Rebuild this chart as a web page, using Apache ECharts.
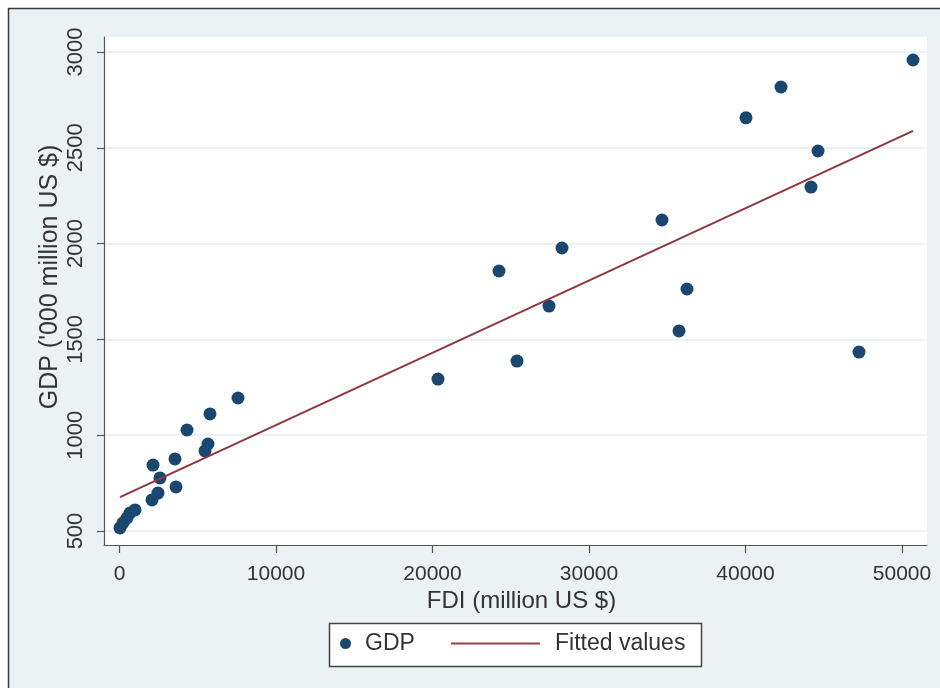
<!DOCTYPE html>
<html><head><meta charset="utf-8">
<script src="https://cdn.jsdelivr.net/npm/echarts@6/dist/echarts.min.js"></script>
<style>html,body{margin:0;padding:0;background:#fff}#c{width:940px;height:688px}</style>
</head><body><div id="c"></div>
<script>
const fdi = [32, 224, 479, 671, 990, 2077, 2141, 2460, 2588, 3546, 3610, 4313, 5463, 5655, 5783, 7572, 20351, 24249, 25399, 27444, 28275, 34665, 35751, 36262, 40032, 42268, 44185, 44633, 47252, 50703];
const gdp = [516, 542, 568, 594, 610, 662, 844, 698, 777, 876, 730, 1027, 918, 954, 1111, 1194, 1293, 1857, 1387, 1674, 1977, 2123, 1544, 1763, 2656, 2817, 2295, 2483, 1434, 2958];
const fitX = [32, 50703];
const fitY = [677, 2588];
const xTicks = [0, 10000, 20000, 30000, 40000, 50000];
const yTicks = [500, 1000, 1500, 2000, 2500, 3000];
const seriesNames = ['GDP', 'Fitted values'];
const xTitle = 'FDI (million US $)';
const yTitle = "GDP ('000 million US $)";

const FONT = "'Liberation Sans', Arial, sans-serif";
const TXT = '#333';
const plain = v => String(v);
const chart = echarts.init(document.getElementById('c'));
chart.setOption({
  animation: false,
  backgroundColor: '#ffffff',
  graphic: [
    { type: 'rect', z: -10, shape: { x: 8.5, y: 8.5, width: 940, height: 690 },
      style: { fill: '#eaf2f3', stroke: '#3a3a3a', lineWidth: 1.5 } },
    { type: 'rect', z: 3, shape: { x: 329.5, y: 623.5, width: 372, height: 43 },
      style: { fill: '#ffffff', stroke: '#444', lineWidth: 1.5 } }
  ],
  grid: { left: 104, right: 13, top: 37, bottom: 143, show: true, backgroundColor: '#ffffff', borderWidth: 0 },
  xAxis: {
    type: 'value', min: -990, max: 51597,
    name: xTitle, nameLocation: 'middle', nameGap: 44, nameMoveOverlap: false,
    nameTextStyle: { fontFamily: FONT, fontSize: 24, color: TXT, padding: [0, 0, 0, 12] },
    axisLine: { show: true, onZero: false, lineStyle: { color: '#555', width: 1.2 } },
    axisTick: { show: true, length: 8, customValues: xTicks, lineStyle: { color: '#555', width: 1.2 } },
    axisLabel: { customValues: xTicks, formatter: plain, margin: 19, fontFamily: FONT, fontSize: 21, color: TXT },
    splitLine: { show: false }
  },
  yAxis: {
    type: 'value', min: 427, max: 3078,
    name: yTitle, nameLocation: 'middle', nameGap: 41, nameRotate: 90, nameMoveOverlap: false,
    nameTextStyle: { fontFamily: FONT, fontSize: 25, color: TXT, padding: [0, 0, 0, 28] },
    axisLine: { show: true, onZero: false, lineStyle: { color: '#555', width: 1.2 } },
    axisTick: { show: true, length: 7, customValues: yTicks, lineStyle: { color: '#555', width: 1.2 } },
    axisLabel: { customValues: yTicks, formatter: plain, rotate: 90, margin: 17, fontFamily: FONT, fontSize: 22, color: TXT },
    splitLine: { show: true, lineStyle: { color: '#e6eef0', width: 1.5 } }
  },
  legend: [
    { data: [seriesNames[0]], left: 340, top: 632, padding: 0, icon: 'circle', itemWidth: 11, itemHeight: 11,
      textStyle: { fontFamily: FONT, fontSize: 23, color: TXT, padding: [0, 0, 0, 9] }, z: 5 },
    { data: [{ name: seriesNames[1], icon: 'rect' }], left: 451, top: 632, padding: 0, itemWidth: 89, itemHeight: 2,
      itemStyle: { color: '#9a4048' },
      textStyle: { fontFamily: FONT, fontSize: 23, color: TXT, padding: [0, 0, 0, 10] }, z: 5 }
  ],
  series: [
    { name: seriesNames[0], type: 'scatter', symbol: 'circle', symbolSize: 13,
      itemStyle: { color: '#1a476f', opacity: 1 },
      data: fdi.map((v, i) => [v, gdp[i]]) },
    { name: seriesNames[1], type: 'line', symbol: 'none', showSymbol: false,
      lineStyle: { color: '#90353b', width: 2 }, itemStyle: { color: '#90353b' },
      data: fitX.map((v, i) => [v, fitY[i]]), z: 3 }
  ]
});
</script></body></html>
